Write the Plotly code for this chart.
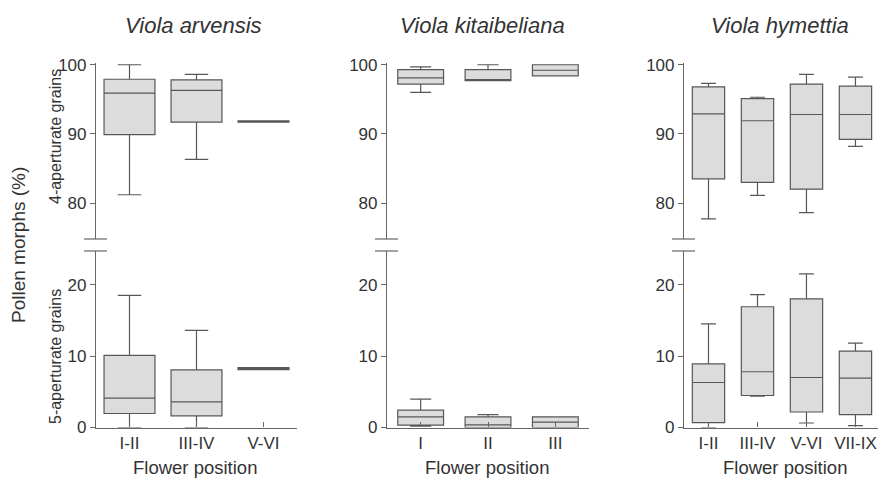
import plotly.graph_objects as go

W, H = 878, 478

# ---------------- data ----------------
titles = ["Viola arvensis", "Viola kitaibeliana", "Viola hymettia"]

cats_arv = ["I-II", "III-IV", "V-VI"]
cats_kit = ["I", "II", "III"]
cats_hym = ["I-II", "III-IV", "V-VI", "VII-IX"]

# 4-aperturate grains (%)
arv4_low = [81.2, 86.3, 91.7]
arv4_q1 = [89.9, 91.7, 91.7]
arv4_med = [95.9, 96.3, 91.8]
arv4_q3 = [97.9, 97.8, 91.9]
arv4_up = [100.0, 98.6, 91.9]

kit4_low = [96.0, 97.7, 98.4]
kit4_q1 = [97.2, 97.7, 98.4]
kit4_med = [98.1, 97.8, 99.2]
kit4_q3 = [99.3, 99.3, 100.0]
kit4_up = [99.7, 100.0, 100.0]

hym4_low = [77.7, 81.1, 78.6, 88.2]
hym4_q1 = [83.5, 83.0, 82.0, 89.2]
hym4_med = [92.9, 91.9, 92.8, 92.8]
hym4_q3 = [96.8, 95.1, 97.2, 96.9]
hym4_up = [97.3, 95.3, 98.6, 98.2]

# 5-aperturate grains (%)
arv5_low = [0.0, 0.0, 8.1]
arv5_q1 = [1.96, 1.63, 8.1]
arv5_med = [4.1, 3.6, 8.25]
arv5_q3 = [10.1, 8.06, 8.4]
arv5_up = [18.5, 13.6, 8.4]

kit5_low = [0.2, 0.0, 0.0]
kit5_q1 = [0.32, 0.0, 0.0]
kit5_med = [1.5, 0.37, 0.75]
kit5_q3 = [2.42, 1.5, 1.5]
kit5_up = [3.96, 1.8, 1.5]

hym5_low = [0.0, 4.4, 0.63, 0.25]
hym5_q1 = [0.68, 4.48, 2.17, 1.8]
hym5_med = [6.3, 7.8, 7.0, 6.9]
hym5_q3 = [8.9, 16.9, 18.0, 10.7]
hym5_up = [14.5, 18.6, 21.5, 11.8]

# ---------------- styling ----------------
FONT = "Arial, Liberation Sans, Helvetica, sans-serif"
TXT = "#333333"
AX = "#666666"
BOXLINE = "#575757"
FILL = "#dcdcdc"

panels = [
    dict(cats=cats_arv, top=(arv4_low, arv4_q1, arv4_med, arv4_q3, arv4_up),
         bot=(arv5_low, arv5_q1, arv5_med, arv5_q3, arv5_up),
         xpx=(96, 297), xmax=2.5, width=0.76),
    dict(cats=cats_kit, top=(kit4_low, kit4_q1, kit4_med, kit4_q3, kit4_up),
         bot=(kit5_low, kit5_q1, kit5_med, kit5_q3, kit5_up),
         xpx=(387, 589), xmax=2.5, width=0.68),
    dict(cats=cats_hym, top=(hym4_low, hym4_q1, hym4_med, hym4_q3, hym4_up),
         bot=(hym5_low, hym5_q1, hym5_med, hym5_q3, hym5_up),
         xpx=(684, 878), xmax=3.46, width=0.66),
]

TOP_PX = (63, 239)     # y pixel of 100 and of axis bottom (top subplot)
BOT_PX = (251, 427.5)  # y pixel of axis top and of 0 (bottom subplot)
top_range = [74.8, 100.25]
bot_range = [0, 24.7]

title_x = [193, 483, 780]
xtitle_x = [195, 487, 785]

fig = go.Figure()
layout = {}
shapes = []
annotations = []

def ydom(px):
    return [1 - px[1] / H, 1 - px[0] / H]

for i, p in enumerate(panels):
    ti = 2 * i + 1
    bi = 2 * i + 2
    xdom = [p["xpx"][0] / W, min(p["xpx"][1] / W, 1.0)]
    for idx, key in ((ti, "top"), (bi, "bot")):
        low, q1, med, q3, up = p[key]
        fig.add_trace(go.Box(
            x=p["cats"], q1=q1, median=med, q3=q3, lowerfence=low, upperfence=up,
            xaxis="x" if idx == 1 else f"x{idx}",
            yaxis="y" if idx == 1 else f"y{idx}",
            fillcolor=FILL, line=dict(color=BOXLINE, width=1.2),
            width=p["width"], whiskerwidth=0.46, boxpoints=False,
            showlegend=False, hoverinfo="skip",
        ))
    xcommon = dict(domain=xdom, type="category", categoryorder="array",
                   categoryarray=p["cats"], range=[-0.5, p["xmax"]],
                   autorange=False, showgrid=False, zeroline=False)
    xn_t = "xaxis" if ti == 1 else f"xaxis{ti}"
    xn_b = f"xaxis{bi}"
    yn_t = "yaxis" if ti == 1 else f"yaxis{ti}"
    yn_b = f"yaxis{bi}"
    layout[xn_t] = dict(xcommon, anchor="y" if ti == 1 else f"y{ti}",
                        showline=False, showticklabels=False, ticks="")
    layout[xn_b] = dict(xcommon, anchor=f"y{bi}", showline=True, linecolor=AX,
                        linewidth=1.2, ticks="inside", ticklen=5, tickcolor=AX,
                        tickwidth=1.2,
                        tickfont=dict(family=FONT, size=17, color=TXT))
    ycommon = dict(showgrid=False, zeroline=False, showline=True, linecolor=AX,
                   linewidth=1.2, ticks="outside", ticklen=5, tickcolor=AX,
                   tickwidth=1.2, tickfont=dict(family=FONT, size=17, color=TXT),
                   autorange=False)
    layout[yn_t] = dict(ycommon, domain=ydom(TOP_PX), range=top_range,
                        tickvals=[80, 90, 100],
                        anchor="x" if ti == 1 else f"x{ti}")
    layout[yn_b] = dict(ycommon, domain=ydom(BOT_PX), range=bot_range,
                        tickvals=[0, 10, 20], anchor=f"x{bi}")
    # axis-break marks
    ax_x = p["xpx"][0]
    for ypx in (TOP_PX[1], BOT_PX[0]):
        shapes.append(dict(type="line", xref="paper", yref="paper",
                           x0=(ax_x - 12) / W, x1=(ax_x + 11) / W,
                           y0=1 - ypx / H, y1=1 - ypx / H,
                           line=dict(color=AX, width=1.2)))
    annotations.append(dict(text=f"<i>{titles[i]}</i>", xref="paper", yref="paper",
                            x=title_x[i] / W, y=1 - 25 / H,
                            showarrow=False, xanchor="center", yanchor="middle",
                            font=dict(family=FONT, size=22, color=TXT)))
    annotations.append(dict(text="Flower position", xref="paper", yref="paper",
                            x=xtitle_x[i] / W, y=1 - 467 / H,
                            showarrow=False, xanchor="center", yanchor="middle",
                            font=dict(family=FONT, size=18.5, color=TXT)))

annotations.append(dict(text="Pollen morphs (%)", xref="paper", yref="paper",
                        x=18 / W, y=1 - 245 / H, textangle=-90, showarrow=False,
                        xanchor="center", yanchor="middle",
                        font=dict(family=FONT, size=19, color=TXT)))
annotations.append(dict(text="4-aperturate grains", xref="paper", yref="paper",
                        x=55 / W, y=1 - 137 / H, textangle=-90, showarrow=False,
                        xanchor="center", yanchor="middle",
                        font=dict(family=FONT, size=16, color=TXT)))
annotations.append(dict(text="5-aperturate grains", xref="paper", yref="paper",
                        x=55 / W, y=1 - 357 / H, textangle=-90, showarrow=False,
                        xanchor="center", yanchor="middle",
                        font=dict(family=FONT, size=16, color=TXT)))

fig.update_layout(
    autosize=True,
    margin=dict(l=0, r=0, t=0, b=0, autoexpand=False),
    paper_bgcolor="white", plot_bgcolor="white",
    shapes=shapes, annotations=annotations,
    **layout,
)

fig.write_html(
    "out.html",
    config={"displayModeBar": False, "responsive": True},
    default_width="100vw",
    default_height="100vh",
    post_script=(
        "document.documentElement.style.margin='0';"
        "document.body.style.margin='0';"
        "document.body.style.overflow='hidden';"
        "window.dispatchEvent(new Event('resize'));"
    ),
)
